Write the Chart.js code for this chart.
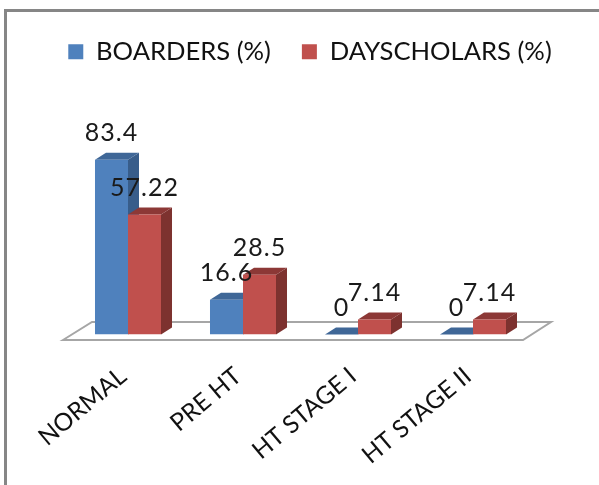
<!DOCTYPE html>
<html>
<head>
<meta charset="utf-8">
<title>Blood pressure</title>
<script src="https://cdn.jsdelivr.net/npm/chart.js@4/dist/chart.umd.js"></script>
<style>
  html, body { margin: 0; background: #fff; }
  #wrap { position: relative; width: 599px; height: 485px; overflow: hidden; }
  #wrap::before { content: ""; position: absolute; left: 4px; top: 9px; right: -4px; bottom: -4px;
    border: 3px solid #868686; }
  canvas { position: absolute; left: 0; top: 0; }
</style>
</head>
<body>
<div id="wrap"><canvas id="chart" width="599" height="485"></canvas></div>
<script>
const categories = ["NORMAL", "PRE HT", "HT STAGE I", "HT STAGE II"];
const boarders = [83.4, 16.6, 0, 0];
const dayscholars = [57.22, 28.5, 7.14, 7.14];

const fontFamily = "Lato, 'Open Sans', sans-serif";
const depthX = 11, depthY = 7;

function poly(ctx, pts, color) {
  ctx.fillStyle = color;
  ctx.beginPath();
  pts.forEach((p, i) => i ? ctx.lineTo(p[0], p[1]) : ctx.moveTo(p[0], p[1]));
  ctx.closePath();
  ctx.fill();
}

// fake 3d: floor and bar side/top faces go under the normal bars
const box3d = {
  id: "box3d",
  beforeDatasetsDraw(chart) {
    const { ctx, scales: { x, y } } = chart;
    const front = y.bottom + 5.5, back = y.bottom - 12.5;
    ctx.save();
    ctx.strokeStyle = "#a6a6a6";
    ctx.lineWidth = 2;
    ctx.beginPath();
    ctx.moveTo(x.left - 7.5, front);
    ctx.lineTo(x.left + 21.5, back);
    ctx.lineTo(x.right + 20.5, back);
    ctx.lineTo(x.right - 7.5, front);
    ctx.closePath();
    ctx.stroke();
    chart.data.datasets.forEach((ds, i) => {
      chart.getDatasetMeta(i).data.forEach(bar => {
        const l = bar.x - bar.width / 2, r = bar.x + bar.width / 2;
        poly(ctx, [[r, bar.y], [r + depthX, bar.y - depthY], [r + depthX, y.bottom - depthY], [r, y.bottom]], ds.sideColor);
        poly(ctx, [[l, bar.y], [l + depthX, bar.y - depthY], [r + depthX, bar.y - depthY], [r, bar.y]], ds.topColor);
      });
    });
    ctx.restore();
  },
  afterDatasetsDraw(chart) {
    const { ctx } = chart;
    ctx.save();
    ctx.font = "25px " + fontFamily;
    ctx.fillStyle = "#1a1a1a";
    ctx.textAlign = "center";
    ctx.textBaseline = "alphabetic";
    ctx.letterSpacing = "1px";
    chart.data.datasets.forEach((ds, i) => {
      chart.getDatasetMeta(i).data.forEach((bar, j) => {
        ctx.fillText(String(ds.data[j]), bar.x, bar.y - 19);
      });
    });
    ctx.restore();
  }
};

new Chart(document.getElementById("chart"), {
  type: "bar",
  data: {
    labels: categories,
    datasets: [
      { label: "BOARDERS (%)", data: boarders, backgroundColor: "#4f81bd", sideColor: "#385d8a", topColor: "#3f6797" },
      { label: "DAYSCHOLARS (%)", data: dayscholars, backgroundColor: "#c0504d", sideColor: "#7d322f", topColor: "#8c3836" }
    ]
  },
  plugins: [box3d],
  options: {
    responsive: false,
    animation: false,
    layout: { padding: { left: 21, top: 8 } },
    datasets: { bar: { barPercentage: 1, categoryPercentage: 0.574 } },
    plugins: {
      tooltip: { enabled: false },
      legend: {
        position: "top",
        labels: {
          font: { family: fontFamily, size: 25.6 },
          color: "#111111",
          boxWidth: 15,
          boxHeight: 15,
          padding: 31
        }
      }
    },
    scales: {
      x: {
        grid: { display: false },
        border: { display: false },
        ticks: {
          font: { family: fontFamily, size: 24.5 },
          color: "#111111",
          minRotation: 40,
          maxRotation: 40,
          autoSkip: false,
          labelOffset: -5,
          padding: 19
        },
        afterFit(s) { s.height = 150.5; }
      },
      y: {
        min: 0,
        max: 124,
        grid: { display: false },
        border: { display: false },
        ticks: { display: false },
        afterFit(s) { s.width = 49.5; }
      },
      spacer: {
        position: "right",
        grid: { display: false },
        border: { display: false },
        ticks: { display: false },
        afterFit(s) { s.width = 68.5; }
      }
    }
  }
});
</script>
</body>
</html>
